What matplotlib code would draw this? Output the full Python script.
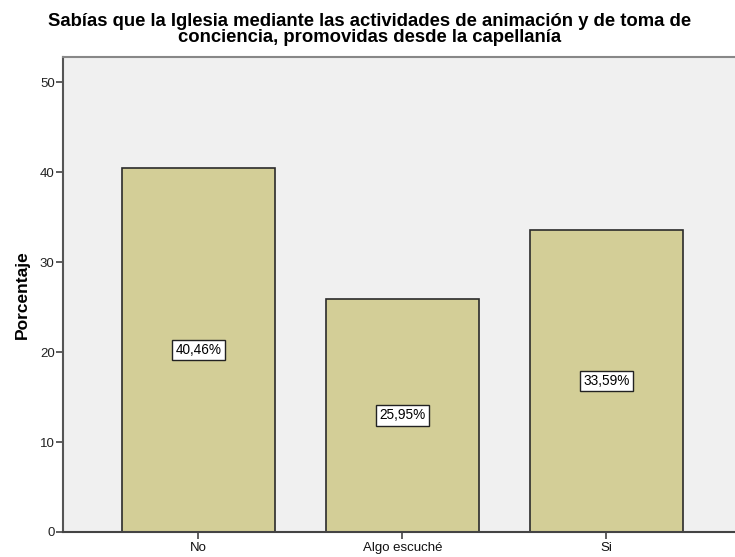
import matplotlib
matplotlib.use('Agg')
import matplotlib.pyplot as plt

# - Data
categories = ['No', 'Algo escuché', 'Si']
percentages = [40.46, 25.95, 33.59]
labels = ['40,46%', '25,95%', '33,59%']
title_lines = ['Sabías que la Iglesia mediante las actividades de animación y de toma de',
               'conciencia, promovidas desde la capellanía']

plt.rcParams['font.family'] = ['Liberation Sans', 'DejaVu Sans']

fig_w, fig_h, dpi = 735, 557, 100
fig = plt.figure(figsize=(fig_w / dpi, fig_h / dpi), dpi=dpi)
fig.patch.set_facecolor('white')
ax = fig.add_axes([63 / fig_w, (fig_h - 532) / fig_h,
                   (735 - 63) / fig_w, (532 - 57) / fig_h])
ax.set_facecolor('#F0F0F0')

x = list(range(len(categories)))
ax.bar(x, percentages, width=0.75, color='#D3CE97',
       edgecolor='#2b2b2b', linewidth=1.2, zorder=2)

# - Value labels at mid-height of each bar
for xi, val, lab in zip(x, percentages, labels):
    ax.text(xi, val / 2, lab, ha='center', va='center', fontsize=9.8,
            bbox=dict(boxstyle='square,pad=0.25', facecolor='white',
                      edgecolor='#222222', linewidth=1.0), zorder=3)

ax.set_xlim(-0.664, 2.63)
ax.set_ylim(0, 52.8)
ax.set_yticks([0, 10, 20, 30, 40, 50])
ax.set_xticks(x)
ax.set_xticklabels(categories, fontsize=9.5)
ax.tick_params(axis='y', labelsize=9.5, length=5, width=1.2,
               color='#444444', labelcolor='#222222', pad=1)
ax.tick_params(axis='x', length=5, width=1.2, color='#444444',
               labelcolor='#111111', pad=2)

ax.spines['right'].set_visible(False)
ax.spines['top'].set_color('#888888')
ax.spines['top'].set_linewidth(1.5)
ax.spines['left'].set_color('#555555')
ax.spines['left'].set_linewidth(1.5)
ax.spines['bottom'].set_color('#444444')
ax.spines['bottom'].set_linewidth(1.5)

ax.set_ylabel('Porcentaje', fontsize=12.5, fontweight='bold')
ax.yaxis.set_label_coords(-0.05, 0.5)

# - Two-line title, tight line spacing
fig.text(370 / fig_w, 1 - 21 / fig_h, title_lines[0], ha='center',
         va='center', fontsize=13.3, fontweight='bold')
fig.text(370 / fig_w, 1 - 37 / fig_h, title_lines[1], ha='center',
         va='center', fontsize=13.3, fontweight='bold')

fig.savefig('out.png', dpi=dpi)
plt.close(fig)
